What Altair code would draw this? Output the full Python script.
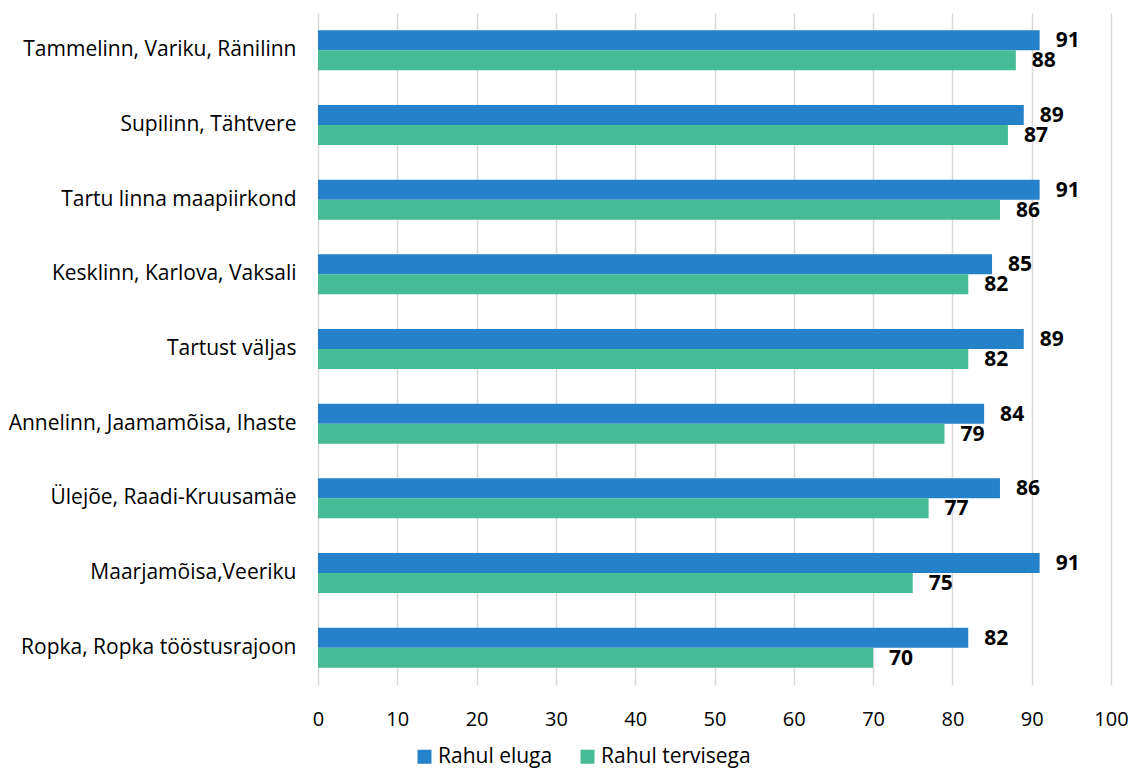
import altair as alt
import pandas as pd

categories = [
    "Tammelinn, Variku, Ränilinn",
    "Supilinn, Tähtvere",
    "Tartu linna maapiirkond",
    "Kesklinn, Karlova, Vaksali",
    "Tartust väljas",
    "Annelinn, Jaamamõisa, Ihaste",
    "Ülejõe, Raadi-Kruusamäe",
    "Maarjamõisa,Veeriku",
    "Ropka, Ropka tööstusrajoon",
]
series_names = ["Rahul eluga", "Rahul tervisega"]
rahul_eluga = [91, 89, 91, 85, 89, 84, 86, 91, 82]
rahul_tervisega = [88, 87, 86, 82, 82, 79, 77, 75, 70]
colors = ["#2682C8", "#45BB96"]

rows = []
for c, a, b in zip(categories, rahul_eluga, rahul_tervisega):
    rows.append({"cat": c, "series": series_names[0], "value": a})
    rows.append({"cat": c, "series": series_names[1], "value": b})
df = pd.DataFrame(rows)

FONT = "Open Sans"

y_enc = alt.Y("cat:N", sort=categories, title=None,
              scale=alt.Scale(paddingInner=0.465, paddingOuter=0.2325),
              axis=alt.Axis(labelFontSize=21, labelFont=FONT, labelColor="#000000",
                            ticks=False, domain=False, labelPadding=22, labelLimit=0,
                            minExtent=310, maxExtent=310))
x_enc = alt.X("value:Q", title=None,
              scale=alt.Scale(domain=[0, 100], nice=False),
              axis=alt.Axis(values=list(range(0, 101, 10)), labelFontSize=20, labelFont=FONT,
                            labelColor="#000000", ticks=False, domain=False, labelFlush=False,
                            grid=True, gridColor="#d9d9d9", gridWidth=1.5,
                            labelPadding=24))
yoff = alt.YOffset("series:N", sort=series_names)

bars = alt.Chart(df).mark_bar().encode(
    x=x_enc,
    y=y_enc,
    yOffset=yoff,
    color=alt.Color("series:N", sort=series_names,
                    scale=alt.Scale(domain=series_names, range=colors),
                    legend=alt.Legend(title=None, orient="none", direction="horizontal",
                                      legendX=96, legendY=733,
                                      symbolType="square", symbolSize=196,
                                      symbolStrokeWidth=0, labelOffset=3,
                                      labelFontSize=21, labelFont=FONT, labelColor="#000000",
                                      columnPadding=24)),
)

labels = alt.Chart(df).mark_text(align="left", baseline="middle", dx=16, dy=1,
                                 fontSize=21, fontWeight="bold", font=FONT,
                                 color="#000000").encode(
    x="value:Q",
    y=alt.Y("cat:N", sort=categories),
    yOffset=yoff,
    text="value:Q",
)

chart = (bars + labels).properties(
    width=793, height=672,
    padding={"left": 0, "top": 5, "right": 0, "bottom": 6},
).configure_view(stroke=None)

chart.save("out.html", embed_options={"renderer": "svg", "actions": False})
